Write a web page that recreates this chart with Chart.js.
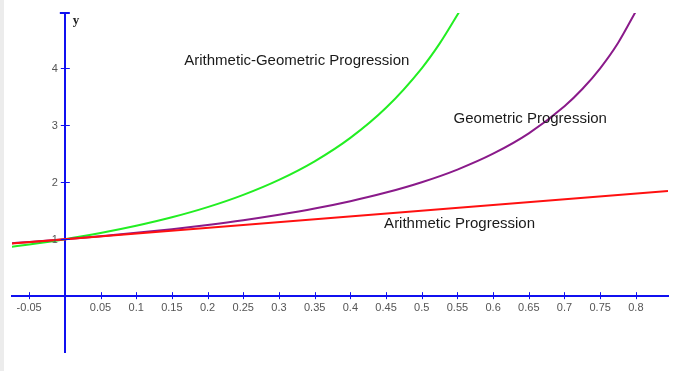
<!DOCTYPE html>
<html>
<head>
<meta charset="utf-8">
<script src="https://cdn.jsdelivr.net/npm/chart.js@4"></script>
<style>
  html, body { margin: 0; padding: 0; background: #fff; }
  body { width: 687px; height: 371px; overflow: hidden; border-left: 4px solid #ececec; box-sizing: border-box; }
  #wrap { width: 683px; height: 371px; }
</style>
</head>
<body>
<div id="wrap"><canvas id="grafico"></canvas></div>
<script>
// Dados
const xArit = [-0.075, 0.845];
const yArit = [0.925, 1.845];

const xGeo = [-0.075, -0.05, 0, 0.05, 0.1, 0.15, 0.2, 0.25, 0.3, 0.35, 0.4, 0.45, 0.5, 0.55, 0.6, 0.65, 0.7, 0.725, 0.75, 0.775, 0.8];
const yGeo = [0.930, 0.952, 1, 1.053, 1.111, 1.176, 1.25, 1.333, 1.429, 1.538, 1.667, 1.818, 2, 2.222, 2.5, 2.857, 3.333, 3.636, 4, 4.444, 5];

const xAritGeo = [-0.075, -0.05, 0, 0.05, 0.1, 0.15, 0.2, 0.25, 0.3, 0.35, 0.4, 0.45, 0.5, 0.525, 0.553];
const yAritGeo = [0.865, 0.907, 1, 1.108, 1.235, 1.384, 1.5625, 1.778, 2.041, 2.367, 2.778, 3.306, 4, 4.432, 5.0];

const rotulos = ['Arithmetic-Geometric Progression', 'Geometric Progression', 'Arithmetic Progression'];
const rotuloX = [0.325, 0.652, 0.553];
const rotuloY = [4.13, 3.11, 1.27];

function pontos(xs, ys) {
    return xs.map((x, i) => ({ x: x, y: ys[i] }));
}

const azul = '#1010f0';

// ticks que cruzam os eixos, rótulos do eixo y, seta do eixo y e textos
const extras = {
    id: 'extras',
    afterDatasetsDraw(chart) {
        const c = chart.ctx;
        const sx = chart.scales.x;
        const sy = chart.scales.y;
        const x0 = sx.getPixelForValue(0);
        const y0 = sy.getPixelForValue(0);
        c.save();
        c.strokeStyle = azul;
        c.lineWidth = 1;
        sx.ticks.forEach(t => {
            if (t.value === 0) return;
            const px = Math.round(sx.getPixelForValue(t.value)) + 0.5;
            c.beginPath(); c.moveTo(px, y0 - 4); c.lineTo(px, y0 + 3); c.stroke();
        });
        c.font = '11px "Liberation Sans", Arial, sans-serif';
        c.fillStyle = '#555';
        c.textAlign = 'right';
        c.textBaseline = 'middle';
        sy.ticks.forEach(t => {
            if (t.value === 0) return;
            const py = Math.round(sy.getPixelForValue(t.value)) + 0.5;
            c.beginPath(); c.moveTo(x0 - 4, py); c.lineTo(x0 + 5, py); c.stroke();
            if (t.value > 0) c.fillText(String(t.value), x0 - 7, py);
        });
        // topo do eixo y
        c.lineWidth = 2;
        const topo = chart.chartArea.top;
        c.beginPath(); c.moveTo(x0 - 5, topo); c.lineTo(x0 + 5, topo); c.stroke();
        c.fillStyle = '#222';
        c.font = 'bold 13px "Liberation Serif", serif';
        c.textAlign = 'left';
        c.fillText('y', x0 + 8, topo + 8);

        c.font = '15px "Liberation Sans", Arial, sans-serif';
        c.textAlign = 'center';
        c.fillStyle = '#1a1a1a';
        rotulos.forEach((r, i) => {
            c.fillText(r, sx.getPixelForValue(rotuloX[i]), sy.getPixelForValue(rotuloY[i]));
        });
        c.restore();
    }
};

const ctx = document.getElementById('grafico');

new Chart(ctx, {
    type: 'scatter',
    data: {
        datasets: [
            {
                label: 'Arithmetic Progression',
                data: pontos(xArit, yArit),
                borderColor: '#ff1010',
                borderWidth: 2,
                showLine: true,
                pointRadius: 0
            },
            {
                label: 'Geometric Progression',
                data: pontos(xGeo, yGeo),
                borderColor: '#8a1a8a',
                borderWidth: 2,
                showLine: true,
                pointRadius: 0,
                cubicInterpolationMode: 'monotone'
            },
            {
                label: 'Arithmetic-Geometric Progression',
                data: pontos(xAritGeo, yAritGeo),
                borderColor: '#22ee22',
                borderWidth: 2,
                showLine: true,
                pointRadius: 0,
                cubicInterpolationMode: 'monotone'
            }
        ]
    },
    options: {
        responsive: true,
        maintainAspectRatio: false,
        animation: false,
        layout: {
            padding: { left: 8, right: 19, top: 13, bottom: 19 }
        },
        plugins: {
            legend: { display: false },
            tooltip: { enabled: false }
        },
        scales: {
            x: {
                type: 'linear',
                min: -0.074,
                max: 0.845,
                position: { y: 0 },
                border: { color: azul, width: 2 },
                grid: { display: false, drawTicks: false },
                ticks: {
                    stepSize: 0.05,
                    includeBounds: false,
                    padding: 5,
                    maxRotation: 0,
                    autoSkip: false,
                    color: '#555',
                    font: { family: '"Liberation Sans", Arial, sans-serif', size: 11 },
                    callback: v => (Math.abs(v) < 1e-9 ? '' : String(Math.round(v * 100) / 100))
                }
            },
            y: {
                type: 'linear',
                min: -0.98,
                max: 4.97,
                position: { x: 0 },
                border: { color: azul, width: 2 },
                grid: { display: false, drawTicks: false },
                ticks: {
                    stepSize: 1,
                    includeBounds: false,
                    display: false
                }
            }
        }
    },
    plugins: [extras]
});
</script>
</body>
</html>
